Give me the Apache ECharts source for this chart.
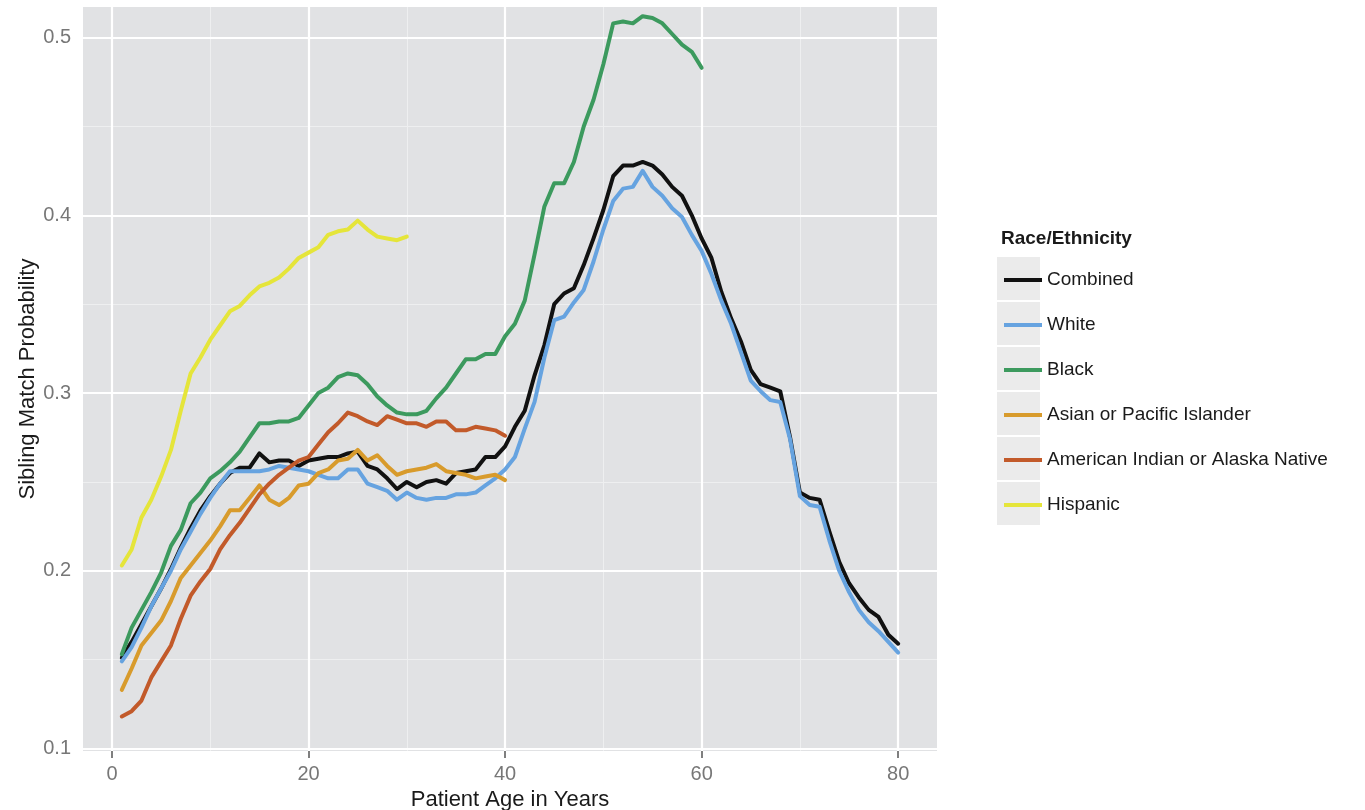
<!DOCTYPE html>
<html>
<head>
<meta charset="utf-8">
<script src="https://cdn.jsdelivr.net/npm/echarts@6/dist/echarts.min.js"></script>
<style>
  html, body { margin: 0; padding: 0; background: #ffffff; }
  #chart { width: 1365px; height: 810px; }
</style>
</head>
<body>
<div id="chart"></div>
<script>
// Patient age (years) for each smoothed estimate
const ages = [
  1, 2, 3, 4, 5, 6, 7, 8, 9, 10, 11, 12, 13, 14, 15, 16, 17, 18, 19, 20,
  21, 22, 23, 24, 25, 26, 27, 28, 29, 30, 31, 32, 33, 34, 35, 36, 37, 38, 39, 40,
  41, 42, 43, 44, 45, 46, 47, 48, 49, 50, 51, 52, 53, 54, 55, 56, 57, 58, 59, 60,
  61, 62, 63, 64, 65, 66, 67, 68, 69, 70, 71, 72, 73, 74, 75, 76, 77, 78, 79, 80
];

// Sibling match probability by race/ethnicity (ages 1..n)
const combined = [
  0.151, 0.160, 0.170, 0.180, 0.190, 0.201, 0.213, 0.224, 0.234, 0.242,
  0.249, 0.255, 0.258, 0.258, 0.266, 0.261, 0.262, 0.262, 0.259, 0.262,
  0.263, 0.264, 0.264, 0.266, 0.267, 0.259, 0.257, 0.252, 0.246, 0.250,
  0.247, 0.250, 0.251, 0.249, 0.255, 0.256, 0.257, 0.264, 0.264, 0.270,
  0.281, 0.290, 0.310, 0.327, 0.350, 0.356, 0.359, 0.372, 0.387, 0.403,
  0.422, 0.428, 0.428, 0.430, 0.428, 0.423, 0.416, 0.411, 0.400, 0.387,
  0.376, 0.357, 0.342, 0.329, 0.313, 0.305, 0.303, 0.301, 0.275, 0.244,
  0.241, 0.240, 0.222, 0.205, 0.193, 0.185, 0.178, 0.174, 0.164, 0.159
];
const white = [
  0.149, 0.157, 0.168, 0.180, 0.190, 0.200, 0.212, 0.222, 0.232, 0.241,
  0.249, 0.256, 0.256, 0.256, 0.256, 0.257, 0.259, 0.258, 0.257, 0.256,
  0.254, 0.252, 0.252, 0.257, 0.257, 0.249, 0.247, 0.245, 0.240, 0.244,
  0.241, 0.240, 0.241, 0.241, 0.243, 0.243, 0.244, 0.248, 0.252, 0.257,
  0.264, 0.280, 0.295, 0.320, 0.341, 0.343, 0.351, 0.358, 0.374, 0.392,
  0.408, 0.415, 0.416, 0.425, 0.416, 0.411, 0.404, 0.399, 0.389, 0.380,
  0.367, 0.352, 0.339, 0.323, 0.307, 0.301, 0.296, 0.295, 0.274, 0.242,
  0.237, 0.236, 0.217, 0.200, 0.188, 0.178, 0.171, 0.166, 0.160, 0.154
];
const black = [
  0.153, 0.168, 0.178, 0.188, 0.199, 0.214, 0.223, 0.238, 0.244, 0.252,
  0.256, 0.261, 0.267, 0.275, 0.283, 0.283, 0.284, 0.284, 0.286, 0.293,
  0.300, 0.303, 0.309, 0.311, 0.310, 0.305, 0.298, 0.293, 0.289, 0.288,
  0.288, 0.290, 0.297, 0.303, 0.311, 0.319, 0.319, 0.322, 0.322, 0.332,
  0.339, 0.352, 0.378, 0.405, 0.418, 0.418, 0.430, 0.450, 0.465, 0.485,
  0.508, 0.509, 0.508, 0.512, 0.511, 0.508, 0.502, 0.496, 0.492, 0.483
];
const asianPacific = [
  0.133, 0.145, 0.158, 0.165, 0.172, 0.183, 0.196, 0.203, 0.210, 0.217,
  0.225, 0.234, 0.234, 0.241, 0.248, 0.240, 0.237, 0.241, 0.248, 0.249,
  0.255, 0.257, 0.262, 0.263, 0.268, 0.262, 0.265, 0.259, 0.254, 0.256,
  0.257, 0.258, 0.260, 0.256, 0.255, 0.254, 0.252, 0.253, 0.254, 0.251
];
const amIndianAlaska = [
  0.118, 0.121, 0.127, 0.140, 0.149, 0.158, 0.173, 0.186, 0.194, 0.201,
  0.212, 0.220, 0.227, 0.235, 0.243, 0.249, 0.254, 0.258, 0.262, 0.264,
  0.271, 0.278, 0.283, 0.289, 0.287, 0.284, 0.282, 0.287, 0.285, 0.283,
  0.283, 0.281, 0.284, 0.284, 0.279, 0.279, 0.281, 0.280, 0.279, 0.276
];
const hispanic = [
  0.203, 0.212, 0.230, 0.240, 0.253, 0.268, 0.290, 0.311, 0.320, 0.330,
  0.338, 0.346, 0.349, 0.355, 0.360, 0.362, 0.365, 0.370, 0.376, 0.379,
  0.382, 0.389, 0.391, 0.392, 0.397, 0.392, 0.388, 0.387, 0.386, 0.388
];

const groupNames = ['Combined', 'White', 'Black', 'Asian or Pacific Islander',
                    'American Indian or Alaska Native', 'Hispanic'];
const groupValues = [combined, white, black, asianPacific, amIndianAlaska, hispanic];

// Axis breaks
const xTicks = [0, 20, 40, 60, 80];
const xMinor = [10, 30, 50, 70];
const yTicks = [0.1, 0.2, 0.3, 0.4, 0.5];
const yMinor = [0.15, 0.25, 0.35, 0.45];

const colors = ['#111111', '#66A3E0', '#3C9A5E', '#D89B2C', '#C25A2A', '#E5E53A'];
const FONT = '"Liberation Sans", Arial, Helvetica, sans-serif';

const chart = echarts.init(document.getElementById('chart'), null, { renderer: 'canvas' });

// panel grid lines (major white, minor faint)
const majorStyle = { color: '#ffffff', width: 2.2, type: 'solid' };
const minorStyle = { color: '#EEEFF0', width: 1, type: 'solid' };
const gridLineData = []
  .concat(xMinor.map(v => ({ xAxis: v, lineStyle: minorStyle })))
  .concat(yMinor.map(v => ({ yAxis: v, lineStyle: minorStyle })))
  .concat(xTicks.map(v => ({ xAxis: v, lineStyle: majorStyle })))
  .concat(yTicks.map(v => ({ yAxis: v, lineStyle: majorStyle })));

const series = [{
  type: 'line',
  name: '__grid',
  data: [],
  silent: true,
  z: 1,
  markLine: {
    silent: true,
    z: 1,
    animation: false,
    symbol: ['none', 'none'],
    label: { show: false },
    emphasis: { disabled: true },
    data: gridLineData
  }
}];

groupNames.forEach((name, gi) => {
  series.push({
    type: 'line',
    name: name,
    data: groupValues[gi].map((v, i) => [ages[i], v]),
    showSymbol: false,
    symbol: 'none',
    z: 10,
    color: colors[gi],
    lineStyle: { width: 4, color: colors[gi], join: 'round', cap: 'round' },
    emphasis: { disabled: true }
  });
});

// grey key backgrounds in the legend
const keyBoxes = groupNames.map((n, i) => ({
  type: 'rect',
  left: 997,
  top: 257 + 45 * i,
  shape: { width: 43, height: 43 },
  style: { fill: '#EBEBEB' },
  z: 0
}));

chart.setOption({
  animation: false,
  backgroundColor: '#ffffff',
  textStyle: { fontFamily: FONT },
  grid: {
    left: 83, top: 7, width: 854, height: 744,
    outerBoundsMode: 'none',
    containLabel: false,
    show: true, backgroundColor: '#E1E2E4', borderWidth: 0
  },
  title: {
    text: 'Race/Ethnicity',
    left: 996, top: 224,
    textStyle: { fontFamily: FONT, fontSize: 19, fontWeight: 'bold', color: '#1a1a1a' }
  },
  graphic: keyBoxes,
  legend: {
    data: groupNames,
    orient: 'vertical',
    left: 999, top: 264,
    icon: 'rect',
    itemWidth: 38, itemHeight: 4,
    itemGap: 23,
    selectedMode: false,
    textStyle: { fontFamily: FONT, fontSize: 19, color: '#1a1a1a', lineHeight: 22 }
  },
  xAxis: {
    type: 'value',
    min: -2.95, max: 83.95,
    name: 'Patient Age in Years',
    nameLocation: 'middle',
    nameGap: 38,
    nameTextStyle: { fontFamily: FONT, fontSize: 22, color: '#1a1a1a' },
    axisLine: { show: false },
    axisTick: { show: true, customValues: xTicks, length: 7, lineStyle: { color: '#555555', width: 1.5 } },
    axisLabel: { customValues: xTicks, fontFamily: FONT, fontSize: 20, color: '#777777', margin: 13 },
    splitLine: { show: false }
  },
  yAxis: {
    type: 'value',
    min: 0.0986, max: 0.5172,
    name: 'Sibling Match Probability',
    nameLocation: 'middle',
    nameGap: 44,
    nameMoveOverlap: false,
    nameTextStyle: { fontFamily: FONT, fontSize: 22, color: '#1a1a1a' },
    axisLine: { show: false },
    axisTick: { show: true, customValues: yTicks, length: 7, lineStyle: { color: '#555555', width: 1.5 } },
    axisLabel: {
      customValues: yTicks, fontFamily: FONT, fontSize: 20, color: '#777777', margin: 12,
      formatter: v => v.toFixed(1)
    },
    splitLine: { show: false }
  },
  series: series
});
</script>
</body>
</html>
